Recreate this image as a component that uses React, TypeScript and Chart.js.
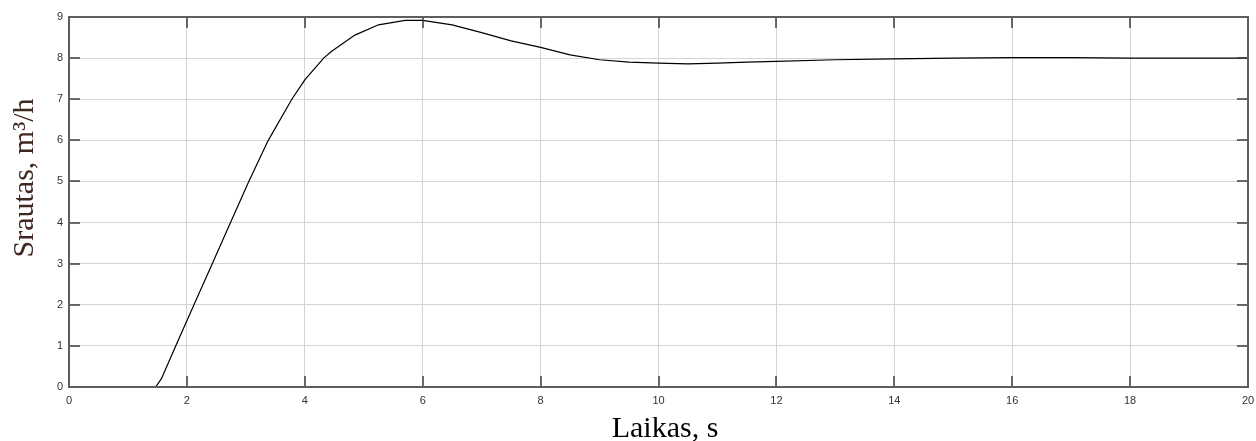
import React, { useEffect, useRef } from "react";
import { Chart, registerables } from "chart.js";

Chart.register(...registerables);

// Time axis (s)
const timeSeconds = [
  0, 1.47, 1.57, 1.81, 2.12, 2.43, 2.74, 3.05, 3.38, 3.78, 4.0, 4.32, 4.45,
  4.85, 5.25, 5.7, 6.0, 6.5, 7.0, 7.5, 8.0, 8.5, 9.0, 9.5, 10.0, 10.5, 11.0,
  11.5, 12.0, 13.0, 14.0, 15.0, 16.0, 17.0, 18.0, 19.0, 20.0,
];

// Flow values (m³/h)
const flowValues = [
  0, 0, 0.21, 1.0, 2.0, 3.0, 4.0, 5.0, 6.0, 7.0, 7.47, 8.0, 8.16, 8.56, 8.81,
  8.92, 8.92, 8.81, 8.62, 8.42, 8.26, 8.08, 7.96, 7.9, 7.88, 7.86, 7.88, 7.9,
  7.92, 7.96, 7.98, 8.0, 8.01, 8.01, 8.0, 8.0, 8.0,
];

const xTickValues = [0, 2, 4, 6, 8, 10, 12, 14, 16, 18, 20];
const yTickValues = [0, 1, 2, 3, 4, 5, 6, 7, 8, 9];

const xTitle = "Laikas, s";
const yTitle = "Srautas, m³/h";

const framePlugin = {
  id: "matlabFrame",
  afterDatasetsDraw(chart: any) {
    const { ctx, chartArea, scales } = chart;
    const { left, right, top, bottom } = chartArea;
    const xs = scales.x;
    const ys = scales.y;
    const tickLen = 11;
    ctx.save();
    ctx.strokeStyle = "#3c3c3c";
    ctx.lineWidth = 1.5;
    ctx.beginPath();
    xTickValues.forEach((v) => {
      const px = Math.round(xs.getPixelForValue(v));
      ctx.moveTo(px, bottom);
      ctx.lineTo(px, bottom - tickLen);
      ctx.moveTo(px, top);
      ctx.lineTo(px, top + tickLen);
    });
    yTickValues.forEach((v) => {
      const py = Math.round(ys.getPixelForValue(v));
      ctx.moveTo(left, py);
      ctx.lineTo(left + tickLen, py);
      ctx.moveTo(right, py);
      ctx.lineTo(right - tickLen, py);
    });
    ctx.stroke();
    ctx.strokeStyle = "#5e5e5e";
    ctx.lineWidth = 2;
    ctx.strokeRect(left, top, right - left, bottom - top);
    ctx.restore();
  },
  afterDraw(chart: any) {
    const { ctx } = chart;
    ctx.save();
    ctx.font = '30px "Liberation Serif", "Times New Roman", serif';
    ctx.fillStyle = "#000000";
    ctx.textAlign = "center";
    ctx.textBaseline = "alphabetic";
    ctx.fillText(xTitle, 665, 437);
    ctx.translate(33, 178);
    ctx.rotate(-Math.PI / 2);
    ctx.fillStyle = "#40281e";
    ctx.fillText(yTitle, 0, 0);
    ctx.restore();
  },
};

export default function App() {
  const canvasRef = useRef<HTMLCanvasElement | null>(null);

  useEffect(() => {
    document.body.style.margin = "0";
    const canvas = canvasRef.current;
    if (!canvas) return;
    const tickFont = { family: '"Liberation Sans", Arial, sans-serif', size: 11 };
    const chart = new Chart(canvas, {
      type: "line",
      data: {
        datasets: [
          {
            label: yTitle,
            data: timeSeconds.map((t, i) => ({ x: t, y: flowValues[i] })),
            borderColor: "#000000",
            borderWidth: 1.2,
            pointRadius: 0,
            tension: 0,
            fill: false,
          },
        ],
      },
      options: {
        animation: false,
        responsive: false,
        maintainAspectRatio: false,
        layout: { padding: { top: 17, right: 8, left: 0, bottom: 0 } },
        plugins: {
          legend: { display: false },
          tooltip: { enabled: false },
          title: { display: false },
        },
        scales: {
          x: {
            type: "linear",
            min: 0,
            max: 20,
            afterBuildTicks: (s: any) => {
              s.ticks = xTickValues.map((v) => ({ value: v }));
            },
            afterFit: (s: any) => {
              s.height = 54;
              s.paddingLeft = 0;
              s.paddingRight = 0;
            },
            ticks: {
              font: tickFont,
              color: "#333333",
              padding: 7,
              maxRotation: 0,
              autoSkip: false,
            },
            grid: { color: "#d4d4d4", lineWidth: 1, drawTicks: false },
            border: { display: false },
          },
          y: {
            type: "linear",
            min: 0,
            max: 9,
            afterBuildTicks: (s: any) => {
              s.ticks = yTickValues.map((v) => ({ value: v }));
            },
            afterFit: (s: any) => {
              s.width = 69;
              s.paddingTop = 0;
              s.paddingBottom = 0;
            },
            ticks: {
              font: tickFont,
              color: "#333333",
              padding: 6,
              autoSkip: false,
            },
            grid: { color: "#d4d4d4", lineWidth: 1, drawTicks: false },
            border: { display: false },
          },
        },
      },
      plugins: [framePlugin],
    });
    return () => chart.destroy();
  }, []);

  return (
    <div style={{ width: 1256, height: 441, background: "#ffffff" }}>
      <canvas ref={canvasRef} width={1256} height={441} style={{ display: "block" }} />
    </div>
  );
}
